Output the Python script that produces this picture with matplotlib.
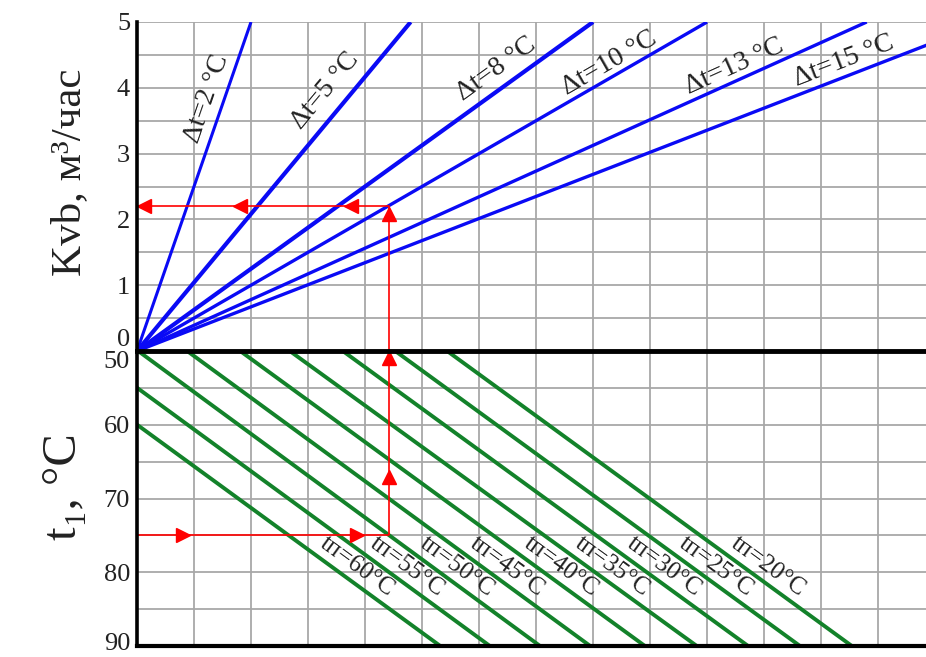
import numpy as np
import matplotlib.pyplot as plt
from matplotlib.transforms import offset_copy

plt.rcParams['font.family'] = ['Liberation Serif', 'DejaVu Serif']

# Kvb rays: temperature difference and the x position (grid cells) where Kvb reaches 5
dt_values = [2, 5, 8, 10, 13, 15]
dt_x_at_kvb5 = [2.0, 4.8, 8.0, 10.0, 12.8, 14.9]
dt_widths = [2.2, 3.0, 3.0, 2.4, 2.4, 2.4]

# supply temperature lines: x position where t1 = 50 and where t1 = 90
tp_values = [60, 55, 50, 45, 40, 35, 30, 25, 20]
tp_x_at_50 = [-1.77, -0.88, 0.02, 0.88, 1.81, 2.68, 3.61, 4.53, 5.44]
tp_x_at_90 = [5.32, 6.19, 7.07, 7.95, 8.91, 9.82, 10.72, 11.63, 12.54]

# worked example shown with red arrows
ex_t1 = 75
ex_x = 4.42
ex_kvb = 2.21

kvb_ticks = [0, 1, 2, 3, 4, 5]
t1_ticks = [50, 60, 70, 80, 90]

XMAX = 13.84
grid_col = '#a8a8a8'
blue = '#0a0af5'
green = '#13822a'
red = '#ff0000'
txt = '#222222'

fig = plt.figure(figsize=(9.26, 6.57), dpi=100)
ax1 = fig.add_axes([137 / 926, 306 / 657, 789 / 926, 329 / 657])
ax2 = fig.add_axes([137 / 926, 11 / 657, 789 / 926, 295 / 657])

for ax in (ax1, ax2):
    ax.set_xlim(0, XMAX)
    ax.set_xticks(np.arange(1, 14))
    ax.set_xticklabels([])
    ax.tick_params(length=0, labelsize=19, pad=5, labelcolor=txt)
    ax.tick_params(which='minor', length=0)
    ax.grid(which='both', color=grid_col, lw=1.3)
    ax.set_axisbelow(True)
    ax.spines['right'].set_visible(False)
    ax.spines['left'].set_linewidth(2.6)

ax1.set_ylim(0, 5)
ax1.set_yticks(kvb_ticks)
ax1.set_yticks(np.arange(0, 5.01, 0.5), minor=True)
ax1.spines['top'].set_visible(False)
ax1.spines['bottom'].set_visible(False)

ax2.set_ylim(90, 50)
ax2.set_yticks(t1_ticks)
ax2.set_yticks(np.arange(50, 91, 5), minor=True)
ax2.spines['top'].set_linewidth(3.5)
ax2.spines['bottom'].set_linewidth(3.0)

for lab in ax1.get_yticklabels():
    if lab.get_text() == '0':
        lab.set_va('bottom')
for lab in ax2.get_yticklabels():
    if lab.get_text() == '50':
        lab.set_va('top')
    if lab.get_text() == '90':
        lab.set_transform(offset_copy(lab.get_transform(), fig, y=4, units='dots'))

# blue rays
for dt, xe, lw in zip(dt_values, dt_x_at_kvb5, dt_widths):
    ax1.plot([0, xe], [0, 5], color=blue, lw=lw, solid_capstyle='butt')


def screen_angle(ax, p0, p1):
    a = ax.transData.transform(p0)
    b = ax.transData.transform(p1)
    return np.degrees(np.arctan2(b[1] - a[1], b[0] - a[0]))


dt_label_pos = [(1.22, 3.83), (3.30, 3.96), (6.30, 4.28),
                (8.28, 4.38), (10.47, 4.33), (12.40, 4.41)]
for dt, xe, (lx, ly) in zip(dt_values, dt_x_at_kvb5, dt_label_pos):
    ang = screen_angle(ax1, (0, 0), (xe, 5))
    ax1.text(lx, ly, f'Δt={dt} °C', rotation=ang, rotation_mode='anchor',
             ha='center', va='center', fontsize=20, color=txt)

# green lines
for tp, x0, x1 in zip(tp_values, tp_x_at_50, tp_x_at_90):
    ax2.plot([x0, x1], [50, 90], color=green, lw=2.8, solid_capstyle='butt')
    ang = screen_angle(ax2, (x0, 50), (x1, 90))
    t_lab = 79.2
    xl = x0 + (t_lab - 50) / 40 * (x1 - x0) + 0.45
    ax2.text(xl, t_lab, f'tп={tp}°C', rotation=ang, rotation_mode='anchor',
             ha='center', va='center', fontsize=18, color=txt)

# red example path
ax2.plot([0, ex_x, ex_x], [ex_t1, ex_t1, 50], color=red, lw=1.2)
ax1.plot([ex_x, ex_x, 0], [0, ex_kvb, ex_kvb], color=red, lw=1.2)
ax1.plot([0.12, 1.8, 3.75], [ex_kvb] * 3, ls='none', marker='<', ms=9.5,
         color=red, clip_on=False)
ax1.plot([ex_x], [2.08], ls='none', marker='^', ms=9.5, color=red)
ax2.plot([0.8, 3.86], [ex_t1] * 2, ls='none', marker='>', ms=9.5, color=red)
ax2.plot([ex_x, ex_x], [67.1, 50.9], ls='none', marker='^', ms=9.5, color=red,
         clip_on=False)

fig.text(70 / 926, 1 - 172 / 657, 'Kvb, м³/час', rotation=90, ha='center',
         va='center', fontsize=31, color=txt)
fig.text(64 / 926, 1 - 487 / 657, 't₁, °C', rotation=90, ha='center',
         va='center', fontsize=35, color=txt)

fig.savefig('out.png', dpi=100)
